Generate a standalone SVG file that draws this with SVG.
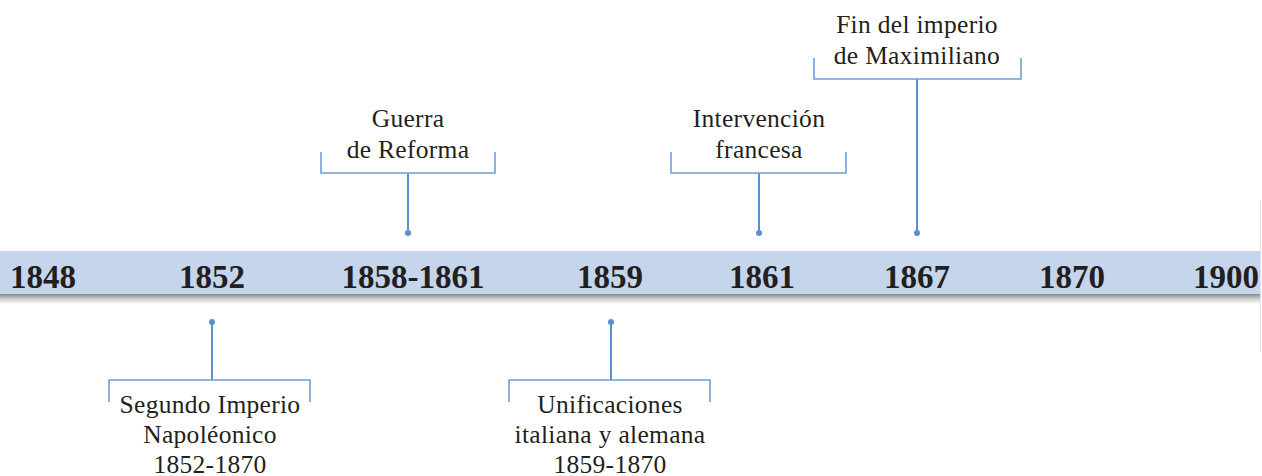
<svg xmlns="http://www.w3.org/2000/svg" width="1262" height="476" viewBox="0 0 1262 476">
<defs>
<linearGradient id="sh" x1="0" y1="0" x2="0" y2="1">
<stop offset="0" stop-color="#7d7d7d"/>
<stop offset="0.5" stop-color="#c8c8c8"/>
<stop offset="1" stop-color="#ffffff"/>
</linearGradient>
<style>
.yr{font-family:"Liberation Serif",serif;font-weight:bold;font-size:33px;fill:#231f20;text-anchor:middle}
.lb{font-family:"Liberation Serif",serif;font-size:25.5px;letter-spacing:0.3px;fill:#231f20;text-anchor:middle}
.stem{stroke:#5a8fd2;stroke-width:2;fill:none}
.br{stroke:#6f9fd8;stroke-width:1.6;fill:none}
.dot{fill:#5a8fd2}
</style>
</defs>
<rect width="1262" height="476" fill="#ffffff"/>
<g id="band">
<rect x="0" y="293" width="1260" height="11" fill="url(#sh)"/>
<rect x="0" y="251" width="1260" height="43" fill="#c5d5ec"/>
<line x1="1260.5" y1="200" x2="1260.5" y2="352" stroke="#dde6f2" stroke-width="1"/>
</g>
<g id="years">
<text class="yr" x="43" y="288">1848</text>
<text class="yr" x="212" y="288">1852</text>
<text class="yr" x="413" y="288">1858-1861</text>
<text class="yr" x="610" y="288">1859</text>
<text class="yr" x="762" y="288">1861</text>
<text class="yr" x="917" y="288">1867</text>
<text class="yr" x="1072" y="288">1870</text>
<text class="yr" x="1226" y="288">1900</text>
</g>
<g id="connectors">
<path class="stem" d="M212 322V380"/>
<path class="br" d="M109 402V380H310V402"/>
<circle class="dot" cx="212" cy="322" r="3"/>
<path class="stem" d="M611 322V380"/>
<path class="br" d="M509 402V380H710V402"/>
<circle class="dot" cx="611" cy="322" r="3"/>
<path class="stem" d="M408 173V233"/>
<path class="br" d="M321 152V173H495V152"/>
<circle class="dot" cx="408" cy="233" r="3"/>
<path class="stem" d="M759 173V233"/>
<path class="br" d="M671 152V173H846V152"/>
<circle class="dot" cx="759" cy="233" r="3"/>
<path class="stem" d="M917 79V233"/>
<path class="br" d="M814 58V79H1021V58"/>
<circle class="dot" cx="917" cy="233" r="3"/>
</g>
<g id="n-segundo">
<text class="lb" x="210" y="413">Segundo Imperio</text>
<text class="lb" x="210" y="443">Napoléonico</text>
<text class="lb" x="210" y="473">1852-1870</text>
</g>
<g id="n-unificaciones">
<text class="lb" x="610" y="413">Unificaciones</text>
<text class="lb" x="610" y="443">italiana y alemana</text>
<text class="lb" x="610" y="473">1859-1870</text>
</g>
<g id="n-guerra">
<text class="lb" x="408" y="127">Guerra</text>
<text class="lb" x="408" y="158">de Reforma</text>
</g>
<g id="n-intervencion">
<text class="lb" x="759" y="127">Intervención</text>
<text class="lb" x="759" y="158">francesa</text>
</g>
<g id="n-fin">
<text class="lb" x="917" y="33">Fin del imperio</text>
<text class="lb" x="917" y="64">de Maximiliano</text>
</g>
</svg>
